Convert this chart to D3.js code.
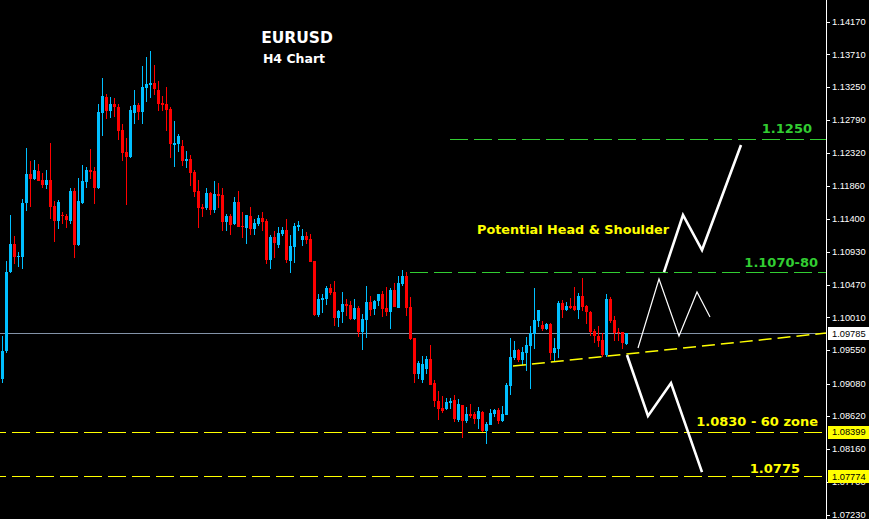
<!DOCTYPE html>
<html>
<head>
<meta charset="utf-8">
<script src="https://cdn.jsdelivr.net/npm/d3@7"></script>
<style>
  html, body { margin: 0; padding: 0; background: #000; }
  svg { display: block; }
</style>
</head>
<body>
<div id="chart"></div>
<script>
// EURUSD H4 candles, [open, high, low, close]
const candles = [
  [1.09142,1.09748,1.09087,1.09537],[1.09537,1.10803,1.09509,1.10648],[1.10648,1.11451,1.10634,1.11042],[1.11042,1.11155,1.10761,1.10860],
  [1.10860,1.10930,1.10719,1.10874],[1.10860,1.11675,1.10690,1.11619],[1.11619,1.12392,1.11507,1.12027],[1.12027,1.12210,1.11563,1.11956],
  [1.11956,1.12224,1.11943,1.12083],[1.12069,1.12168,1.11929,1.11929],[1.11943,1.12041,1.11830,1.11873],[1.11873,1.12083,1.11816,1.11943],
  [1.11943,1.12463,1.11394,1.11563],[1.11577,1.11647,1.11070,1.11366],[1.11366,1.11661,1.11253,1.11633],[1.11451,1.11493,1.11324,1.11437],
  [1.11437,1.11465,1.11267,1.11380],[1.11366,1.11830,1.11324,1.11788],[1.11788,1.11830,1.10846,1.11028],[1.11028,1.11971,1.11014,1.11647],
  [1.11619,1.12154,1.11605,1.11929],[1.11915,1.12126,1.11830,1.12083],[1.12083,1.12378,1.11956,1.12055],[1.12069,1.12126,1.11605,1.11830],
  [1.11830,1.13012,1.11816,1.12899],[1.12885,1.13377,1.12562,1.13125],[1.13111,1.13153,1.12800,1.12913],[1.12913,1.13111,1.12814,1.13012],
  [1.13012,1.13097,1.12828,1.12970],[1.12970,1.13012,1.12505,1.12632],[1.12646,1.12731,1.12210,1.12323],[1.12337,1.12533,1.11591,1.12266],
  [1.12266,1.12984,1.12252,1.12927],[1.12885,1.13209,1.12731,1.12998],[1.12998,1.13026,1.12787,1.12899],[1.12899,1.13547,1.12731,1.13251],
  [1.13237,1.13674,1.13040,1.13293],[1.13279,1.13758,1.13097,1.13307],[1.13307,1.13561,1.13139,1.13223],[1.13209,1.13335,1.12913,1.13012],
  [1.13026,1.13125,1.12913,1.12998],[1.13012,1.13251,1.12632,1.12927],[1.12941,1.12970,1.12252,1.12449],[1.12435,1.12773,1.12126,1.12463],
  [1.12449,1.12590,1.12337,1.12562],[1.12421,1.12505,1.12140,1.12210],[1.12210,1.12351,1.12112,1.12238],[1.12238,1.12294,1.11858,1.12041],
  [1.12055,1.12083,1.11703,1.11774],[1.11788,1.11943,1.11267,1.11549],[1.11563,1.11605,1.11423,1.11535],[1.11549,1.11830,1.11521,1.11760],
  [1.11760,1.11774,1.11451,1.11521],[1.11521,1.11929,1.11479,1.11746],[1.11746,1.11901,1.11549,1.11718],[1.11732,1.11830,1.11225,1.11352],
  [1.11352,1.11465,1.11225,1.11437],[1.11437,1.11465,1.11169,1.11310],[1.11324,1.11703,1.11310,1.11633],[1.11633,1.11788,1.11282,1.11282],
  [1.11296,1.11493,1.11126,1.11282],[1.11267,1.11451,1.11042,1.11451],[1.11437,1.11563,1.11169,1.11253],[1.11253,1.11394,1.11169,1.11338],
  [1.11324,1.11451,1.11296,1.11408],[1.11408,1.11493,1.11225,1.11352],[1.11366,1.11394,1.10761,1.10817],[1.10817,1.11169,1.10690,1.11141],
  [1.11141,1.11225,1.10846,1.11056],[1.11028,1.11282,1.10986,1.11197],[1.11183,1.11282,1.11155,1.11239],[1.11239,1.11394,1.10775,1.10817],
  [1.10803,1.11169,1.10634,1.11014],[1.11000,1.11338,1.10775,1.11296],[1.11282,1.11366,1.11225,1.11310],[1.11098,1.11253,1.11014,1.11155],
  [1.11155,1.11211,1.11042,1.11098],[1.11112,1.11183,1.10789,1.10789],[1.10803,1.10803,1.10030,1.10044],[1.10044,1.10339,1.10016,1.10268],
  [1.10254,1.10339,1.10072,1.10282],[1.10268,1.10451,1.10184,1.10423],[1.10423,1.10480,1.10325,1.10353],[1.10367,1.10522,1.09889,1.10001],
  [1.10001,1.10114,1.09874,1.10100],[1.10086,1.10367,1.09931,1.10198],[1.10198,1.10268,1.10030,1.10170],[1.10184,1.10240,1.09973,1.09987],
  [1.09987,1.10268,1.09973,1.10142],[1.10142,1.10170,1.09734,1.09804],[1.09804,1.10058,1.09551,1.09987],[1.09973,1.10451,1.09720,1.10226],
  [1.10226,1.10311,1.10030,1.10114],[1.10128,1.10254,1.10044,1.10240],[1.10240,1.10339,1.10170,1.10339],[1.10339,1.10381,1.10016,1.10128],
  [1.10142,1.10437,1.10030,1.10086],[1.10086,1.10423,1.09846,1.10395],[1.10395,1.10494,1.10156,1.10156],[1.10142,1.10592,1.10142,1.10494],
  [1.10480,1.10676,1.10451,1.10592],[1.10592,1.10648,1.10030,1.10142],[1.10156,1.10296,1.09692,1.09706],[1.09720,1.09720,1.09087,1.09213],
  [1.09213,1.09396,1.09142,1.09368],[1.09129,1.09466,1.09087,1.09354],[1.09283,1.09466,1.09213,1.09424],[1.09424,1.09621,1.09059,1.09059],
  [1.09087,1.09129,1.08749,1.08833],[1.08833,1.08974,1.08566,1.08721],[1.08735,1.08903,1.08665,1.08693],[1.08721,1.08875,1.08707,1.08819],
  [1.08805,1.08875,1.08721,1.08833],[1.08847,1.08917,1.08538,1.08580],[1.08566,1.08861,1.08538,1.08791],[1.08777,1.08777,1.08313,1.08552],
  [1.08552,1.08749,1.08524,1.08651],[1.08651,1.08791,1.08594,1.08623],[1.08651,1.08679,1.08510,1.08580],[1.08580,1.08749,1.08440,1.08693],
  [1.08679,1.08693,1.08397,1.08411],[1.08411,1.08538,1.08229,1.08510],[1.08496,1.08721,1.08496,1.08665],[1.08651,1.08721,1.08608,1.08707],
  [1.08707,1.08735,1.08510,1.08552],[1.08552,1.08763,1.08538,1.08651],[1.08637,1.09087,1.08637,1.09059],[1.09045,1.09720,1.08917,1.09452],
  [1.09438,1.09678,1.09410,1.09551],[1.09551,1.09565,1.09382,1.09410],[1.09410,1.09593,1.09340,1.09523],[1.09509,1.09734,1.09255,1.09621],
  [1.09607,1.09889,1.09002,1.09790],[1.09776,1.10423,1.09565,1.09973],[1.09959,1.10114,1.09874,1.10114],[1.09903,1.09959,1.09818,1.09846],
  [1.09846,1.09931,1.09832,1.09917],[1.09917,1.09931,1.09410,1.09509],[1.09509,1.09720,1.09382,1.09579],[1.09565,1.10240,1.09438,1.10212],
  [1.10212,1.10254,1.10001,1.10114],[1.10114,1.10226,1.10100,1.10170],[1.10170,1.10282,1.10128,1.10142],[1.10170,1.10437,1.10100,1.10114],
  [1.10114,1.10353,1.09987,1.10311],[1.10311,1.10564,1.10100,1.10156],[1.10170,1.10184,1.09917,1.10086],[1.10086,1.10100,1.09748,1.09804],
  [1.09818,1.09846,1.09649,1.09748],[1.09748,1.09889,1.09593,1.09678],[1.09692,1.09790,1.09452,1.09481],[1.09481,1.10339,1.09452,1.10268],
  [1.10268,1.10296,1.09931,1.09959],[1.09973,1.10030,1.09678,1.09790],[1.09804,1.09860,1.09678,1.09790],[1.09804,1.09804,1.09565,1.09649],
  [1.09635,1.09785,1.09621,1.09785]
];

// price axis
const priceTicks = [1.14170, 1.13710, 1.13250, 1.12790, 1.12320, 1.11860, 1.11400, 1.10930,
                    1.10470, 1.10010, 1.09550, 1.09080, 1.08620, 1.08160, 1.07700, 1.07230];
const lastPrice = 1.09785;
const taggedPrices = [1.08399, 1.07774];

// horizontal levels drawn on the chart
const levelPrices = [1.1252, 1.1065, 1.08399, 1.07774];
const levelStartBar = [112, 102, -1, -1];
const levelLabels = ["1.1250", "1.1070-80", "1.0830 - 60 zone", "1.0775"];

// neckline and scenario paths, [bar, price]
const neckline = [[127.75, 1.09326], [206, 1.09790]];
const pathShoulder = [[159, 1.09579], [164.25, 1.10550], [169.25, 1.09748], [173.75, 1.10367], [177, 1.10016]];
const pathBull = [[165.5, 1.10648], [170.25, 1.11451], [175, 1.10958], [184.75, 1.12435]];
const pathBear = [[156.25, 1.09481], [161.5, 1.08623], [167.25, 1.09087], [175, 1.07834]];

const W = 869, H = 519, plotRight = 826;
const upColor = "#00bfff", downColor = "#ff0000";
const green = "#32cd32", yellow = "#ffff00";

const svg = d3.select("#chart").append("svg")
    .attr("width", W)
    .attr("height", H)
    .style("background", "#000");

const x = d3.scaleLinear().domain([-0.5, 206]).range([0, plotRight]);
const y = d3.scaleLinear().domain([1.07174, 1.14475]).range([H, 0]);

// current price line
svg.append("line")
    .attr("x1", 0).attr("x2", plotRight)
    .attr("y1", Math.round(y(lastPrice)) + 0.5).attr("y2", Math.round(y(lastPrice)) + 0.5)
    .attr("stroke", "#8393a8").attr("stroke-width", 1);

// level lines
const levelColor = i => i < 2 ? green : yellow;
levelPrices.forEach(function (p, i) {
    svg.append("line")
        .attr("x1", x(levelStartBar[i])).attr("x2", plotRight)
        .attr("y1", Math.round(y(p)) + 0.5).attr("y2", Math.round(y(p)) + 0.5)
        .attr("stroke", levelColor(i))
        .attr("stroke-width", 1)
        .attr("stroke-dasharray", "18,6")
        .attr("stroke-dashoffset", i < 2 ? 0 : 10)
        .attr("shape-rendering", "crispEdges");
});

// candles
const cg = svg.append("g").attr("shape-rendering", "crispEdges");
const col = d => d[3] >= d[0] ? upColor : downColor;

cg.selectAll("line.wick")
    .data(candles)
    .join("line")
    .attr("class", "wick")
    .attr("x1", (d, i) => Math.round(x(i)) + 0.5)
    .attr("x2", (d, i) => Math.round(x(i)) + 0.5)
    .attr("y1", d => y(d[1]))
    .attr("y2", d => y(d[2]))
    .attr("stroke", col);

cg.selectAll("rect.body")
    .data(candles)
    .join("rect")
    .attr("class", "body")
    .attr("x", (d, i) => Math.round(x(i)) - 1)
    .attr("width", 3)
    .attr("y", d => y(Math.max(d[0], d[3])))
    .attr("height", d => Math.max(1, Math.abs(y(d[0]) - y(d[3]))))
    .attr("fill", col);

// neckline
const line = d3.line().x(d => x(d[0])).y(d => y(d[1]));
svg.append("path")
    .attr("d", line(neckline))
    .attr("fill", "none")
    .attr("stroke", yellow)
    .attr("stroke-width", 1.5)
    .attr("stroke-dasharray", "13,6");

// scenario paths
svg.append("path")
    .attr("d", line(pathShoulder))
    .attr("fill", "none").attr("stroke", "#fff").attr("stroke-width", 1.2);
[pathBull, pathBear].forEach(function (p) {
    svg.append("path")
        .attr("d", line(p))
        .attr("fill", "none").attr("stroke", "#fff").attr("stroke-width", 2.6)
        .attr("stroke-linejoin", "miter");
});

// texts
const bold = "'DejaVu Sans', Verdana, sans-serif";
svg.append("text").text("EURUSD")
    .attr("x", 297).attr("y", 43)
    .attr("text-anchor", "middle")
    .attr("fill", "#fff").attr("font-family", bold).attr("font-weight", "bold").attr("font-size", 15.5);
svg.append("text").text("H4 Chart")
    .attr("x", 294).attr("y", 63)
    .attr("text-anchor", "middle")
    .attr("fill", "#fff").attr("font-family", bold).attr("font-weight", "bold").attr("font-size", 12.5);

svg.append("text").text("Potential Head & Shoulder")
    .attr("x", x(118.75)).attr("y", 234)
    .attr("fill", yellow).attr("font-family", bold).attr("font-weight", "bold").attr("font-size", 12.8);

const labelEndBar = [202.5, 204, 204, 199.5];
const labelLift = [6, 5, 6, 3];
levelLabels.forEach(function (t, i) {
    svg.append("text").text(t)
        .attr("x", x(labelEndBar[i]))
        .attr("y", y(levelPrices[i]) - labelLift[i])
        .attr("text-anchor", "end")
        .attr("fill", levelColor(i))
        .attr("font-family", bold).attr("font-weight", "bold").attr("font-size", 13);
});

// price axis
const ax = svg.append("g").attr("shape-rendering", "crispEdges");
ax.append("line")
    .attr("x1", plotRight + 0.5).attr("x2", plotRight + 0.5)
    .attr("y1", 0).attr("y2", H)
    .attr("stroke", "#fff");
const axisFont = "'Liberation Sans', Arial, sans-serif";
ax.selectAll("line.tick")
    .data(priceTicks)
    .join("line")
    .attr("class", "tick")
    .attr("x1", plotRight).attr("x2", plotRight + 4)
    .attr("y1", d => Math.round(y(d)) + 0.5).attr("y2", d => Math.round(y(d)) + 0.5)
    .attr("stroke", "#fff");
svg.selectAll("text.tick")
    .data(priceTicks)
    .join("text")
    .attr("class", "tick")
    .attr("x", plotRight + 6)
    .attr("y", d => y(d))
    .attr("dy", "0.35em")
    .attr("fill", "#fff")
    .attr("font-family", axisFont).attr("font-size", 9.3)
    .text(d => d.toFixed(5));

// tagged prices on the axis
const tags = [[lastPrice, "#fff"]].concat(taggedPrices.map(p => [p, yellow]));
tags.forEach(function (t) {
    svg.append("rect")
        .attr("x", plotRight + 2).attr("width", W - plotRight - 2)
        .attr("y", Math.round(y(t[0])) - 6).attr("height", 13)
        .attr("fill", t[1]);
    svg.append("text")
        .attr("x", plotRight + 6).attr("y", y(t[0]))
        .attr("dy", "0.35em")
        .attr("fill", "#000")
        .attr("font-family", axisFont).attr("font-size", 9.3)
        .text(t[0].toFixed(5));
});
</script>
</body>
</html>
